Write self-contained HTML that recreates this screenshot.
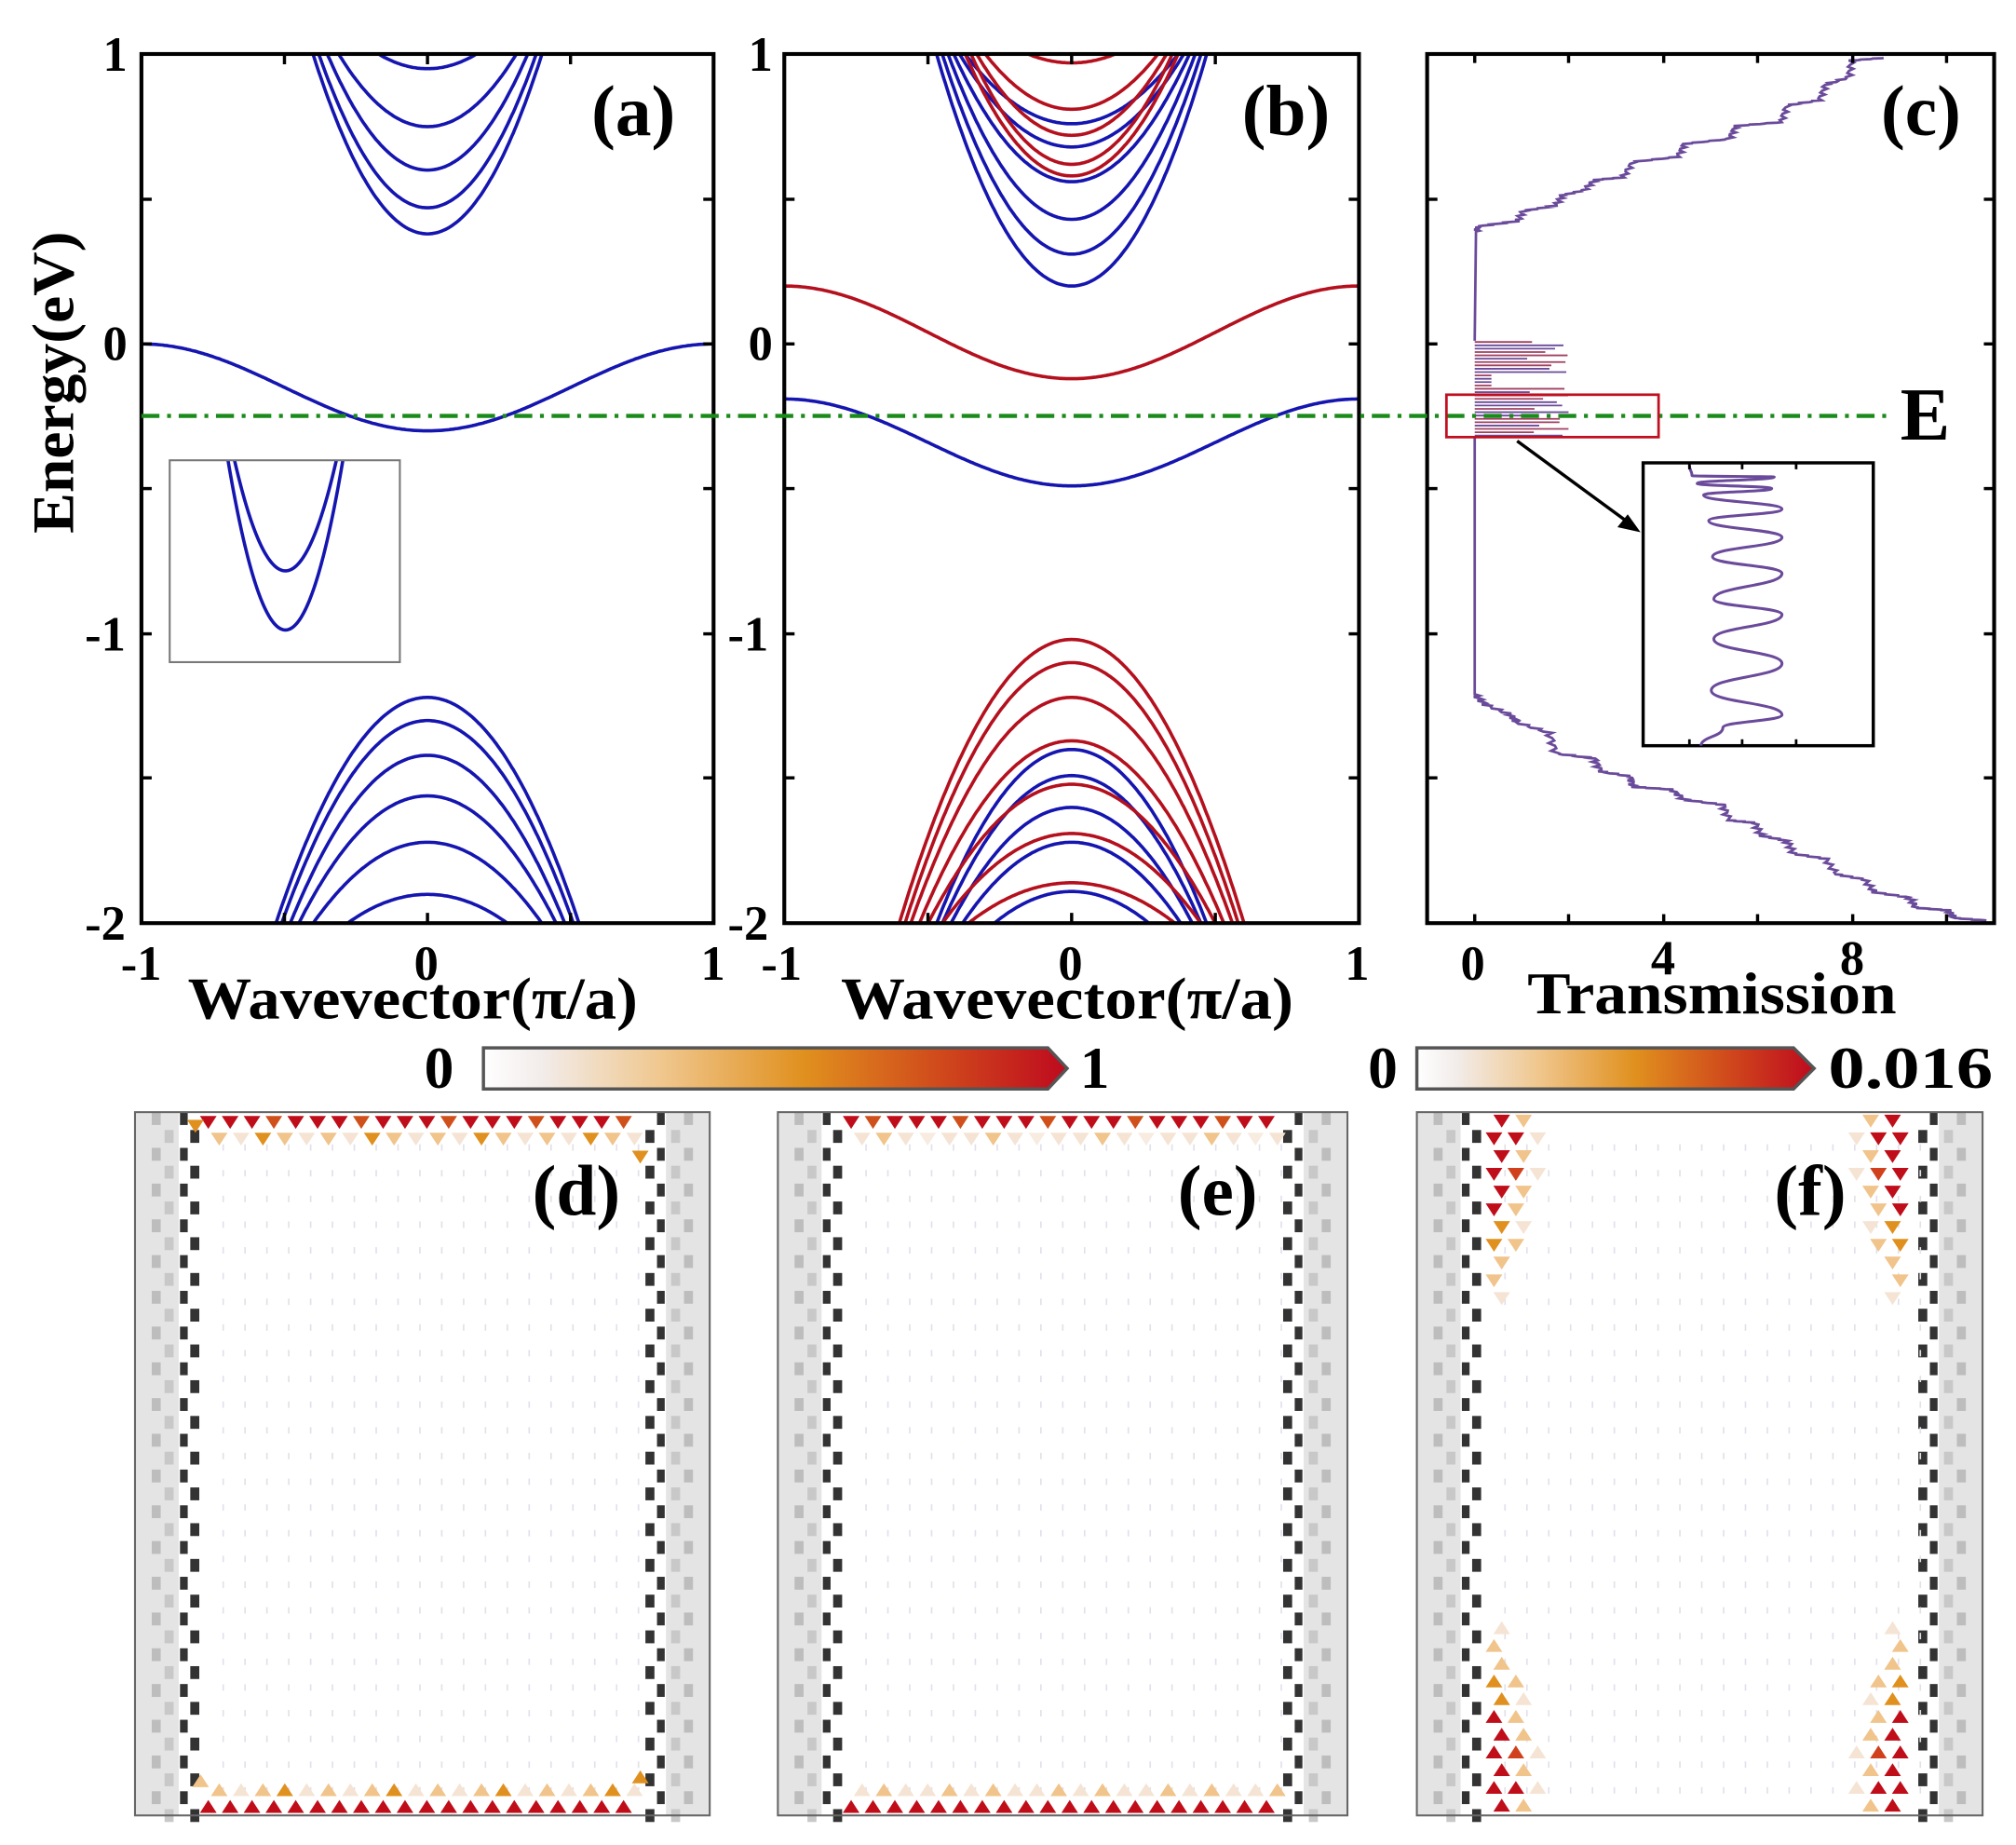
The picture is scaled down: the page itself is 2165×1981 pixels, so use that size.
<!DOCTYPE html>
<html><head><meta charset="utf-8"><style>
html,body{margin:0;padding:0;background:#fff;}
svg{display:block;}
text{font-family:"Liberation Serif",serif;font-weight:bold;fill:#000;}
</style></head><body>
<svg id="s" width="2165" height="1981" viewBox="0 0 1568 1435" preserveAspectRatio="none" xmlns="http://www.w3.org/2000/svg">
<defs>
<linearGradient id="cg" x1="0" x2="1" y1="0" y2="0">
<stop offset="0" stop-color="#ffffff"/><stop offset="0.1" stop-color="#f2ecea"/>
<stop offset="0.3" stop-color="#f0c890"/><stop offset="0.55" stop-color="#e0901e"/>
<stop offset="0.78" stop-color="#d04a1c"/><stop offset="1" stop-color="#be0a1e"/>
</linearGradient>
</defs>
<rect width="1568" height="1435" fill="#fff"/>
<g id="bands"></g>
<g id="bottom"></g>
<rect x="110" y="42" width="445" height="676" fill="none" stroke="#000" stroke-width="3"/>
<rect x="610" y="42" width="447" height="676" fill="none" stroke="#000" stroke-width="3"/>
<rect x="1110" y="42" width="441" height="676" fill="none" stroke="#000" stroke-width="3"/>
<g id="ticks" stroke="#000" stroke-width="2.5"></g>
<rect x="132" y="358" width="179" height="157" fill="none" stroke="#777" stroke-width="1.5"/>
<line x1="110" y1="323.5" x2="1470" y2="323.5" stroke="#1a8a1a" stroke-width="3.2" stroke-dasharray="14,6,3,6"/>
<text x="1478" y="342" font-size="58">E</text>
<rect x="1125" y="307" width="165" height="33" fill="none" stroke="#c01020" stroke-width="2"/>
<line x1="1180" y1="343" x2="1266" y2="406" stroke="#000" stroke-width="2.5"/>
<polygon points="1276,414 1258,410 1266,400" fill="#000"/>
<rect x="1278" y="360" width="179" height="220" fill="#fff" stroke="#000" stroke-width="2.5"/>
<g id="inset"></g>
<g font-size="38">
<text x="80" y="55">1</text><text x="80" y="280">0</text><text x="66" y="506">-1</text><text x="66" y="731">-2</text>
<text x="582" y="55">1</text><text x="582" y="280">0</text><text x="566" y="506">-1</text><text x="566" y="731">-2</text>
<text x="94" y="762">-1</text><text x="322" y="762">0</text><text x="545" y="762">1</text>
<text x="592" y="762">-1</text><text x="823" y="762">0</text><text x="1046" y="762">1</text>
<text x="1136" y="762">0</text><text x="1284" y="758">4</text><text x="1431" y="758">8</text>
</g>
<text x="146" y="792" font-size="46" textLength="350" lengthAdjust="spacingAndGlyphs">Wavevector(π/a)</text>
<text x="654" y="792" font-size="46" textLength="352" lengthAdjust="spacingAndGlyphs">Wavevector(π/a)</text>
<text x="1188" y="788" font-size="46" textLength="287" lengthAdjust="spacingAndGlyphs">Transmission</text>
<text transform="translate(57,415) rotate(-90)" font-size="46" textLength="235" lengthAdjust="spacingAndGlyphs">Energy(eV)</text>
<g font-size="56">
<text x="460" y="105">(a)</text><text x="966" y="105">(b)</text><text x="1463" y="105">(c)</text>
<text x="414" y="945">(d)</text><text x="916" y="945">(e)</text><text x="1380" y="945">(f)</text>
</g>
<polygon points="376,815 815,815 830,831 815,847 376,847" fill="url(#cg)" stroke="#555" stroke-width="2.5"/>
<text x="330" y="846" font-size="46">0</text><text x="840" y="846" font-size="46">1</text>
<polygon points="1102,815 1395,815 1411,831 1395,847 1102,847" fill="url(#cg)" stroke="#555" stroke-width="2.5"/>
<text x="1064" y="846" font-size="46">0</text><text x="1422" y="846" font-size="46" textLength="128" lengthAdjust="spacingAndGlyphs">0.016</text>
</svg>
<script>
var NS="http://www.w3.org/2000/svg";
function el(p,t,a){var e=document.createElementNS(NS,t);for(var k in a)e.setAttribute(k,a[k]);p.appendChild(e);return e;}
var B=document.getElementById('bands');
function Y(E){return 267.5-E*225.33;}
var BLUE="#1515b0",RED="#b4101e";
function curve(cx,hw,f,col,clipId){var d="";for(var i=0;i<=400;i++){var k=-1+2*i/400;var E=f(k);var x=cx+k*hw,y=Y(E);d+=(i?"L":"M")+x.toFixed(1)+","+y.toFixed(1);}
el(B,'path',{d:d,fill:'none',stroke:col,'stroke-width':2.6,'clip-path':'url(#'+clipId+')'});}
var defs=document.querySelector('defs');
function clip(id,x,y,w,h){var c=el(defs,'clipPath',{id:id});el(c,'rect',{x:x,y:y,width:w,height:h});}
clip('ca',110,42,445,676);clip('cb',610,42,447,676);clip('ci',132,358,179,157);
function cond(E0,kt){var A=(1-E0)/(kt*kt);return function(k){return E0+A*k*k;};}
function val(E0,kb){var A=(2+E0)/(kb*kb);return function(k){return E0-A*k*k;};}
var ax=332.5,ah=222.5;
[[0.38,0.40],[0.47,0.38],[0.6,0.35],[0.75,0.31],[0.95,0.17]].forEach(function(p){curve(ax,ah,cond(p[0],p[1]),BLUE,'ca');});
[[-1.22,0.53],[-1.3,0.51],[-1.42,0.48],[-1.56,0.45],[-1.72,0.40],[-1.9,0.28]].forEach(function(p){curve(ax,ah,val(p[0],p[1]),BLUE,'ca');});
curve(ax,ah,function(k){return -0.15-0.15*Math.cos(Math.PI*k);},BLUE,'ca');
(function(){[[444,0.9],[490,1.0]].forEach(function(p){var d="";for(var i=0;i<=100;i++){var u=-1+2*i/100;var x=222+u*46*p[1];var y=p[0]-(p[0]-350)*u*u;d+=(i?"L":"M")+x+","+y;}el(B,'path',{d:d,fill:'none',stroke:BLUE,'stroke-width':2.6,'clip-path':'url(#ci)'});});})();
var bx=833.5,bh=223.5;
[[0.2,0.47],[0.31,0.45],[0.43,0.43],[0.56,0.41],[0.68,0.39],[0.76,0.37]].forEach(function(p){curve(bx,bh,cond(p[0],p[1]),BLUE,'cb');});
[[0.58,0.37],[0.62,0.35],[0.72,0.33],[0.81,0.30],[0.97,0.15]].forEach(function(p){curve(bx,bh,cond(p[0],p[1]),RED,'cb');});
[[-1.4,0.47],[-1.49,0.45],[-1.6,0.42],[-1.72,0.38],[-1.89,0.27]].forEach(function(p){curve(bx,bh,val(p[0],p[1]),BLUE,'cb');});
[[-1.02,0.60],[-1.1,0.58],[-1.22,0.56],[-1.37,0.53],[-1.52,0.5],[-1.69,0.45],[-1.86,0.36]].forEach(function(p){curve(bx,bh,val(p[0],p[1]),RED,'cb');});
curve(bx,bh,function(k){return 0.04-0.16*Math.cos(Math.PI*k);},RED,'cb');
curve(bx,bh,function(k){return -0.34-0.15*Math.cos(Math.PI*k);},BLUE,'cb');
var T=document.getElementById('ticks');
function tk(x1,y1,x2,y2){el(T,'line',{x1:x1,y1:y1,x2:x2,y2:y2});}
[[110,555],[610,1057],[1110,1551]].forEach(function(p){[42,155,267.5,380,493,605,718].forEach(function(y){tk(p[0],y,p[0]+8,y);tk(p[1],y,p[1]-8,y);});});
[[110,555],[610,1057]].forEach(function(p){for(var i=0;i<=4;i++){var x=p[0]+(p[1]-p[0])*i/4;tk(x,42,x,50);tk(x,718,x,710);}});
[1147,1220,1294,1367,1441,1514].forEach(function(x){tk(x,42,x,49);tk(x,718,x,711);});
var TC="#6a4a9a";
function wig(pts,amp){var d="";for(var i=0;i<pts.length-1;i++){var a=pts[i],b=pts[i+1];for(var j=0;j<8;j++){var t=j/8;var x=a[0]+(b[0]-a[0])*t+(j%2?amp:-amp)*Math.sin(i+j);var y=a[1]+(b[1]-a[1])*t;d+=(d?"L":"M")+x.toFixed(1)+","+y.toFixed(1);}}var l=pts[pts.length-1];d+="L"+l[0]+","+l[1];return d;}
var pts=[[1465,45],[1440,47],[1438,60],[1420,66],[1415,78],[1390,82],[1385,95],[1350,98],[1345,108],[1310,112],[1305,122],[1270,126],[1262,138],[1240,140],[1232,148],[1215,152],[1210,160],[1185,164],[1180,172],[1150,176],[1148,180]];
el(B,'path',{d:wig(pts,2.5)+"L1147,265",fill:'none',stroke:TC,'stroke-width':2});
for(var y=266;y<=340;y+=2.6){var w=1185+Math.abs(Math.sin(y*1.7))*35;if(y>290&&y<300)w=1160;el(B,'line',{x1:1147,y1:y,x2:w,y2:y,stroke:(Math.round(y)%2?TC:"#a04060"),'stroke-width':1.3});}
var pts2=[[1147,540],[1155,548],[1175,556],[1180,562],[1205,570],[1210,586],[1240,590],[1245,600],[1268,604],[1270,612],[1300,614],[1310,622],[1340,626],[1345,638],[1365,640],[1370,650],[1390,654],[1395,664],[1420,668],[1428,680],[1450,684],[1458,694],[1485,698],[1490,706],[1515,708],[1520,714],[1545,716]];
el(B,'path',{d:"M1147,340L1147,540"+wig(pts2,3).replace(/^M/,"L"),fill:'none',stroke:TC,'stroke-width':2});
var I=document.getElementById('inset');
var ip=[[1314,362],[1316,370],[1380,371],[1320,376],[1378,380],[1325,385],[1386,396],[1329,405],[1386,418],[1332,433],[1386,446],[1333,466],[1386,478],[1333,497],[1386,516],[1331,537],[1386,556],[1340,566],[1323,580]];
var d="M"+ip[0][0]+","+ip[0][1];
for(var i=1;i<ip.length;i++){var a=ip[i-1],b=ip[i];var my=(a[1]+b[1])/2;d+="C"+a[0]+","+my+" "+b[0]+","+my+" "+b[0]+","+b[1];}
el(I,'path',{d:d,fill:'none',stroke:TC,'stroke-width':2.2});
[1314,1355,1397].forEach(function(x){el(I,'line',{x1:x,y1:360,x2:x,y2:365,stroke:'#000','stroke-width':2});el(I,'line',{x1:x,y1:580,x2:x,y2:575,stroke:'#000','stroke-width':2});});
var G=document.getElementById('bottom');
var RD="#c00d1a",OR="#e0901e",LO="#f0c48a",VL="#f5e4d4";
function tri(x,y,c,up){var p=up?[[x-6.5,y+5],[x+6.5,y+5],[x,y-5]]:[[x-6.5,y-5],[x+6.5,y-5],[x,y+5]];el(G,'polygon',{points:p.map(function(q){return q.join(',');}).join(' '),fill:c});}
function panel(x0,x1,y0,y1){
el(G,'rect',{x:x0,y:y0,width:x1-x0,height:y1-y0,fill:'#fff'});
[[x0,1],[x1,-1]].forEach(function(s){var e=s[0],dir=s[1];
 el(G,'rect',{x:dir>0?e:e-34,y:y0,width:34,height:y1-y0,fill:'#e4e4e4'});
 for(var y=y0;y<y1;y+=27.8){
  el(G,'rect',{x:e+dir*13-(dir<0?7:0),y:y,width:7,height:10,fill:'#bdbdbd'});
  el(G,'rect',{x:e+dir*23-(dir<0?7:0),y:y+13.9,width:7,height:10,fill:'#c8c8c8'});
  el(G,'rect',{x:e+dir*35-(dir<0?6:0),y:y,width:6,height:10,fill:'#333'});
  el(G,'rect',{x:e+dir*43-(dir<0?7:0),y:y+13.9,width:7,height:10,fill:'#333'});
 }});
el(G,'rect',{x:x0,y:y0,width:x1-x0,height:y1-y0,fill:'none',stroke:'#666','stroke-width':1.5});
for(var y=y0+25;y<y1-20;y+=20)for(var x=x0+60;x<x1-55;x+=17){el(G,'rect',{x:x+((y/20)%2?8:0),y:y,width:1.2,height:5,fill:'#e2e0ea'});}
}
panel(105,552,865,1412);panel(605,1048,865,1412);panel(1102,1542,865,1412);
for(var x=162,i=0;x<500;x+=17,i++){tri(x,873,i%4==3?"#d0501c":RD,false);tri(x+8.5,886,[LO,VL,OR,LO,VL][i%5],false);
 tri(x,1405,RD,true);tri(x+8.5,1392,[LO,VL,LO,OR,VL][i%5],true);}
tri(152,876,OR,false);tri(498,900,OR,false);tri(156,1385,LO,true);tri(498,1382,OR,true);
for(var x=662,i=0;x<1000;x+=17,i++){tri(x,873,i%4==1?"#d0501c":RD,false);tri(x+8.5,886,[VL,LO,VL,"#f8ece0",VL][i%5],false);
 tri(x,1405,RD,true);tri(x+8.5,1392,[VL,LO,VL,VL,LO][i%5],true);}
var rowsT=[[RD,LO],[RD,RD,VL],[RD,LO],[RD,"#d0401c",VL],[RD,LO],[RD,LO],[OR,VL],[OR,LO],[LO],[LO],[VL]];
rowsT.forEach(function(r,j){var y=872+j*13.8;r.forEach(function(c,i){var off=(j%2?0:6)+i*17;tri(1162+off,y,c,false);tri(1478-off,y,c,false);});});
rowsT.forEach(function(r,j){var y=1404-j*13.8;r.forEach(function(c,i){var off=(j%2?0:6)+i*17;tri(1162+off,y,c,true);tri(1478-off,y,c,true);});});
</script>
</body></html>
